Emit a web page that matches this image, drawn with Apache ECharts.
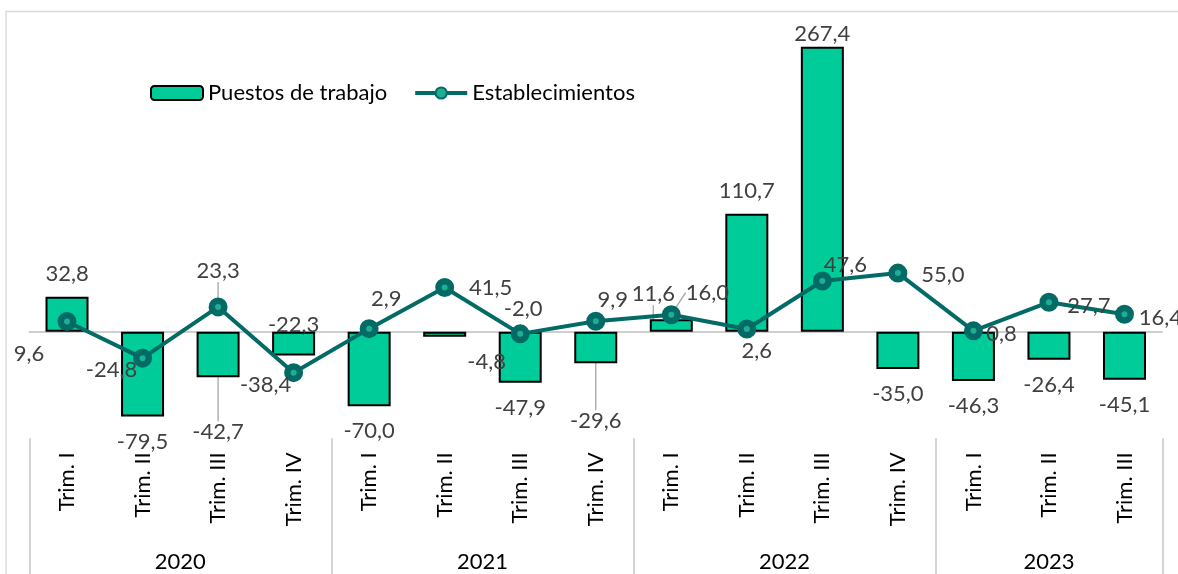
<!DOCTYPE html>
<html>
<head>
<meta charset="utf-8">
<script src="https://cdn.jsdelivr.net/npm/echarts@6/dist/echarts.min.js"></script>
<style>
  html, body { margin: 0; padding: 0; background: #fff; }
  #chart { width: 1178px; height: 574px; }
</style>
</head>
<body>
<div id="chart"></div>
<script>
// datos
var years = ['2020', '2021', '2022', '2023'];
var quartersPerYear = [4, 4, 4, 3];
var quarters = ['Trim. I', 'Trim. II', 'Trim. III', 'Trim. IV',
                'Trim. I', 'Trim. II', 'Trim. III', 'Trim. IV',
                'Trim. I', 'Trim. II', 'Trim. III', 'Trim. IV',
                'Trim. I', 'Trim. II', 'Trim. III'];
var puestos = [32.8, -79.5, -42.7, -22.3, -70.0, -4.8, -47.9, -29.6,
               11.6, 110.7, 267.4, -35.0, -46.3, -26.4, -45.1];
var establecimientos = [9.6, -24.8, 23.3, -38.4, 2.9, 41.5, -2.0, 9.9,
                        16.0, 2.6, 47.6, 55.0, 0.8, 27.7, 16.4];

// posiciones de etiquetas (como en excel, movidas a mano)
var barLabelShift = {2: [0, 30], 3: [0, -56], 5: [42, 0], 7: [0, 33], 8: [-18, -2], 10: [0, 10]};
var barLeader = [2, 7, 8];
var lineLabelShift = [[-38, 32], [-31, 12], [0, -36], [-28, 12], [17, -30], [46, 0], [3, -25], [17, -21],
                      [36, -22], [10, 22], [23, -16], [45, 2], [28, 3], [40, 4], [36, 4]];
var lineLeader = [2, 8];

var FONT = 'Lato';
var FS = 22;
var fmt = function (v) { return v.toFixed(1).replace('.', ','); };

// limites de los años en el eje (0..15)
var yearBounds = [0];
var yearCenters = {};
quartersPerYear.forEach(function (n, i) {
  var start = yearBounds[yearBounds.length - 1];
  yearCenters[start + n / 2] = years[i];
  yearBounds.push(start + n);
});

var myChart = echarts.init(document.getElementById('chart'));
myChart.setOption({
  animation: false,
  graphic: [{
    type: 'rect',
    shape: { x: 6, y: 11.5, width: 1400, height: 800 },
    style: { fill: 'none', stroke: '#d9d9d9', lineWidth: 1.3 },
    silent: true
  }],
  legend: {
    left: 145,
    top: 77,
    itemWidth: 52,
    itemHeight: 14,
    itemGap: 26,
    textStyle: { fontFamily: FONT, fontSize: FS, color: '#000' },
    lineStyle: { width: 4 },
    data: ['Puestos de trabajo', 'Establecimientos']
  },
  grid: { left: 29.25, right: 15.75, top: 12, bottom: 135.7 },
  xAxis: [{
    type: 'category',
    data: quarters,
    position: 'bottom',
    axisLine: { show: false, onZero: false },
    axisTick: { show: false },
    axisLabel: { rotate: 90, margin: 14, fontFamily: FONT, fontSize: FS, color: '#000' }
  }, {
    type: 'category',
    data: quarters,
    position: 'top',
    axisLine: { show: true, onZero: true, lineStyle: { color: '#bfbfbf', width: 1.5 } },
    axisTick: { show: false },
    axisLabel: { show: false }
  }, {
    type: 'value',
    min: 0,
    max: quarters.length,
    position: 'bottom',
    axisLine: { show: false, onZero: false },
    splitLine: { show: false },
    axisTick: { show: true, customValues: yearBounds, length: 140, lineStyle: { color: '#c8c8c8', width: 1.5 } },
    axisLabel: {
      customValues: Object.keys(yearCenters).map(Number),
      formatter: function (v) { return yearCenters[v]; },
      margin: 113,
      fontFamily: FONT, fontSize: FS, color: '#000'
    }
  }],
  yAxis: {
    type: 'value',
    min: -100,
    max: 300,
    interval: 100,
    show: false
  },
  series: [{
    name: 'Puestos de trabajo',
    type: 'bar',
    xAxisIndex: 0,
    barWidth: 43,
    itemStyle: { color: '#00cc99', borderColor: '#000', borderWidth: 2 },
    data: puestos.map(function (v, i) {
      return {
        value: v,
        label: { position: v >= 0 ? 'top' : 'bottom', distance: v >= 0 ? 12 : 14 },
        labelLine: { show: barLeader.indexOf(i) >= 0 }
      };
    }),
    label: {
      show: true,
      fontFamily: FONT, fontSize: FS, color: '#404040',
      formatter: function (p) { return fmt(p.value); }
    },
    labelLine: { lineStyle: { color: '#a6a6a6', width: 1.3 } },
    labelLayout: function (p) {
      var s = barLabelShift[p.dataIndex];
      return s ? { dx: s[0], dy: s[1] } : {};
    }
  }, {
    name: 'Establecimientos',
    type: 'line',
    xAxisIndex: 0,
    symbol: 'circle',
    symbolSize: 12.5,
    z: 3,
    lineStyle: { color: '#036b66', width: 4 },
    itemStyle: { color: '#1fae94', borderColor: '#036b66', borderWidth: 6.5 },
    data: establecimientos.map(function (v, i) {
      return { value: v, labelLine: { show: lineLeader.indexOf(i) >= 0 } };
    }),
    label: {
      show: true,
      position: 'inside',
      fontFamily: FONT, fontSize: FS, color: '#404040',
      formatter: function (p) { return fmt(p.value); }
    },
    labelLine: { lineStyle: { color: '#a6a6a6', width: 1.3 } },
    labelLayout: function (p) {
      var s = lineLabelShift[p.dataIndex];
      return { dx: s[0], dy: s[1] };
    }
  }]
});
</script>
</body>
</html>
